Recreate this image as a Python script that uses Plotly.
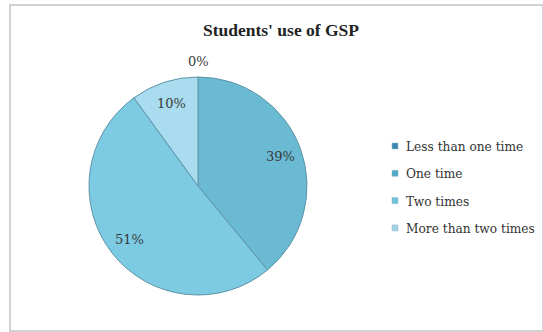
import math
import plotly.graph_objects as go

categories = ["Less than one time", "One time", "Two times", "More than two times"]
values = [0, 39, 51, 10]
labels_text = ["0%", "39%", "51%", "10%"]
colors = ["#3F89AB", "#6ABAD4", "#7CCBE3", "#A8DCEE"]
legend_colors = ["#3E8AAE", "#4EAAC7", "#6EC1DC", "#A2D3E6"]

W, H = 543, 332
# pie placement (pixels)
cx, cy, R = 198, 186, 109

fig = go.Figure(go.Pie(
    labels=categories,
    values=values,
    textinfo="none",
    sort=False,
    direction="clockwise",
    rotation=0,
    marker=dict(colors=colors, line=dict(color="#5E93A8", width=1)),
    domain=dict(x=[(cx - R) / W, (cx + R) / W], y=[1 - (cy + R) / H, 1 - (cy - R) / H]),
    showlegend=False,
    hoverinfo="label+percent",
))

annotations = []
total = sum(values)
cum = 0
for v, t in zip(values, labels_text):
    mid = (cum + v / 2) / total * 2 * math.pi
    cum += v
    frac = 1.14 if v == 0 else 0.80
    px = cx + frac * R * math.sin(mid)
    py = cy - frac * R * math.cos(mid)
    annotations.append(dict(x=px / W, y=1 - py / H, xref="paper", yref="paper",
                            text=t, showarrow=False, xanchor="center", yanchor="middle",
                            font=dict(family="DejaVu Serif", size=13, color="#3A3A3A")))

shapes = [dict(type="rect", xref="paper", yref="paper",
               x0=10 / W, x1=543 / W, y0=1 - 331 / H, y1=1 - 5 / H,
               line=dict(color="#D2D2D2", width=2))]

# custom legend
lx, ly0, dy, sq = 392, 147, 27.3, 6
for i, (c, col) in enumerate(zip(categories, legend_colors)):
    yc = ly0 + i * dy
    shapes.append(dict(type="rect", xref="paper", yref="paper",
                       x0=lx / W, x1=(lx + sq) / W,
                       y0=1 - (yc + sq / 2 - 1) / H, y1=1 - (yc - sq / 2 - 1) / H,
                       fillcolor=col, line=dict(color="#8FB8C8", width=0.5)))
    annotations.append(dict(x=(lx + sq + 6) / W, y=1 - yc / H, xref="paper", yref="paper",
                            text=c, showarrow=False, xanchor="left", yanchor="middle",
                            font=dict(family="DejaVu Serif", size=12.2, color="#333333")))

fig.update_layout(
    width=W, height=H,
    margin=dict(l=0, r=0, t=0, b=0),
    paper_bgcolor="white",
    plot_bgcolor="white",
    title=dict(text="<b>Students' use of GSP</b>", x=281 / W, xanchor="center",
               y=1 - 30 / H, yanchor="middle",
               font=dict(family="Liberation Serif", size=17.5, color="#222222")),
    annotations=annotations,
    shapes=shapes,
)

fig.write_html("out.html")
